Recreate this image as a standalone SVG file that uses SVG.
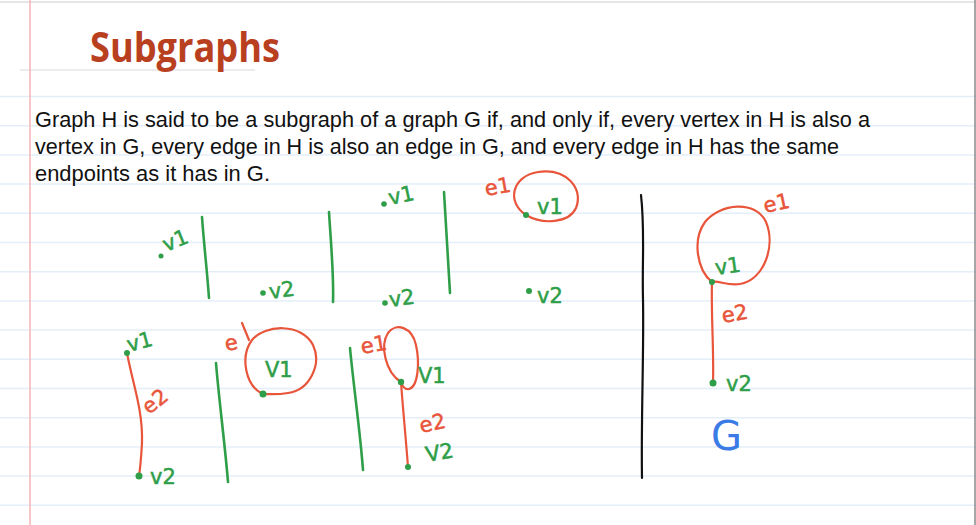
<svg xmlns="http://www.w3.org/2000/svg" width="976" height="525" viewBox="0 0 976 525">
<style>
.rule{stroke:#e4eef9;stroke-width:1.5}
.g{stroke:#2f9e48;stroke-width:2.6;fill:none;stroke-linecap:round;stroke-linejoin:round}
.r{stroke:#e8553a;stroke-width:2.2;fill:none;stroke-linecap:round;stroke-linejoin:round}
.k{stroke:#111;stroke-width:2.2;fill:none;stroke-linecap:round}
.dot{fill:#2f9e48}
.lg{fill:#2f9e48;stroke:#2f9e48;stroke-width:0.5;font-family:"DejaVu Sans",sans-serif;font-size:21px}
.lr{fill:#e8553a;stroke:#e8553a;stroke-width:0.5;font-family:"DejaVu Sans",sans-serif;font-size:21px}
.body{fill:#111;font-family:"Liberation Sans",Arial,sans-serif;font-size:21.5px}
</style>
<rect width="976" height="525" fill="#fff"/>
<g id="paper">
<line x1="0" y1="2" x2="976" y2="2" stroke="#ddd" stroke-width="1.5"/>
<line x1="20" y1="70" x2="255" y2="70" stroke="#e6e6ea" stroke-width="1.5"/>
<line class="rule" x1="0" y1="96.5" x2="976" y2="96.5"/>
<line class="rule" x1="0" y1="125.7" x2="976" y2="125.7"/>
<line class="rule" x1="0" y1="154.9" x2="976" y2="154.9"/>
<line class="rule" x1="0" y1="184.1" x2="976" y2="184.1"/>
<line class="rule" x1="0" y1="213.3" x2="976" y2="213.3"/>
<line class="rule" x1="0" y1="242.5" x2="976" y2="242.5"/>
<line class="rule" x1="0" y1="271.7" x2="976" y2="271.7"/>
<line class="rule" x1="0" y1="300.9" x2="976" y2="300.9"/>
<line class="rule" x1="0" y1="330.1" x2="976" y2="330.1"/>
<line class="rule" x1="0" y1="359.3" x2="976" y2="359.3"/>
<line class="rule" x1="0" y1="388.5" x2="976" y2="388.5"/>
<line class="rule" x1="0" y1="417.7" x2="976" y2="417.7"/>
<line class="rule" x1="0" y1="446.9" x2="976" y2="446.9"/>
<line class="rule" x1="0" y1="476.1" x2="976" y2="476.1"/>
<line class="rule" x1="0" y1="505.3" x2="976" y2="505.3"/>
<line x1="30" y1="0" x2="30" y2="525" stroke="#f5b5b5" stroke-width="1.5"/>
<line x1="975" y1="0" x2="975" y2="525" stroke="#888" stroke-width="1.5"/>
</g>
<g id="title">
<text x="90" y="62" fill="#b9401f" font-family="'Open Sans','Liberation Sans',sans-serif" font-weight="bold" font-size="41" textLength="190" lengthAdjust="spacingAndGlyphs">Subgraphs</text>
</g>
<g id="definition" class="body">
<text x="35" y="127" textLength="835" lengthAdjust="spacingAndGlyphs">Graph H is said to be a subgraph of a graph G if, and only if, every vertex in H is also a</text>
<text x="35" y="154" textLength="804" lengthAdjust="spacingAndGlyphs">vertex in G, every edge in H is also an edge in G, and every edge in H has the same</text>
<text x="35" y="181" textLength="235" lengthAdjust="spacingAndGlyphs">endpoints as it has in G.</text>
</g>
<g id="connectors">
<path class="g" d="M202,217 C204,245 207,270 209,298"/>
<path class="g" d="M329,212 C331,245 334,275 333,302"/>
<path class="g" d="M444,192 C446,225 448,260 450,293"/>
<path class="g" d="M216,363 C219,400 225,445 228,482"/>
<path class="g" d="M350,348 C354,390 360,430 363,470"/>
<path class="k" d="M641,195 C645,230 642,260 643,300 C644,350 641,420 642,478"/>
<path class="r" d="M526,215 C506,202 512,176 538,172 C566,168 584,188 576,208 C569,223 543,225 526,215"/>
<path class="r" d="M127,353 C133,385 143,410 142,443 C141,460 140,470 139,476"/>
<path class="r" d="M263,394 C245,386 240,356 252,340 C265,324 302,323 313,345 C322,364 310,390 288,393 C276,395 268,394 263,394"/>
<path class="r" d="M242,323 L249,340"/>
<path class="r" d="M401,382 C385,372 380,345 388,333 C396,322 412,327 416,345 C420,363 418,387 409,389 C404,390 402,385 401,382"/>
<path class="r" d="M401,382 C403,410 406,440 408,467"/>
<path class="r" d="M712,282 C697,270 692,240 705,222 C720,203 756,200 766,222 C776,246 764,280 740,284 C727,286 718,280 712,282"/>
<path class="r" d="M712,282 C711,315 714,350 713,383"/>
</g>
<g id="panel-a">
<g id="a-v1"><circle class="dot" cx="161" cy="256" r="2.5"/><text class="lg" x="166" y="252" font-size="18" transform="rotate(-22 166 252)">v1</text></g>
<g id="a-v2"><circle class="dot" cx="263" cy="293" r="2.8"/><text class="lg" x="270" y="299" transform="rotate(-8 270 299)">v2</text></g>
</g>
<g id="panel-b">
<g id="b-v1"><circle class="dot" cx="384" cy="204" r="2.8"/><text class="lg" x="390" y="205" font-size="19" transform="rotate(-12 390 205)">v1</text></g>
<g id="b-v2"><circle class="dot" cx="385" cy="303" r="2.8"/><text class="lg" x="390" y="307" transform="rotate(-8 390 307)">v2</text></g>
</g>
<g id="panel-c">
<g id="c-e1"><text class="lr" x="486" y="196" font-size="19" transform="rotate(-10 486 196)">e1</text></g>
<g id="c-v1"><circle class="dot" cx="526" cy="215" r="3"/><text class="lg" x="537" y="214">v1</text></g>
<g id="c-v2"><circle class="dot" cx="529" cy="291" r="3"/><text class="lg" x="537" y="303">v2</text></g>
</g>
<g id="panel-d">
<g id="d-v1"><circle class="dot" cx="127" cy="353" r="3"/><text class="lg" x="129" y="352" font-size="19" transform="rotate(-15 129 352)">v1</text></g>
<g id="d-e2"><text class="lr" x="149" y="415" transform="rotate(-38 149 415)">e2</text></g>
<g id="d-v2"><circle class="dot" cx="139" cy="476" r="3.5"/><text class="lg" x="150" y="484" font-size="19">v2</text></g>
</g>
<g id="panel-e">
<g id="e-e1"><text class="lr" x="226" y="351" transform="rotate(-10 226 351)">e</text></g>
<g id="e-v1"><circle class="dot" cx="263" cy="394" r="3.5"/><text class="lg" x="265" y="377" font-size="22">V1</text></g>
</g>
<g id="panel-f">
<g id="f-e1"><text class="lr" x="362" y="354" font-size="16" transform="rotate(-10 362 354)">e1</text></g>
<g id="f-v1"><circle class="dot" cx="401" cy="382" r="3.2"/><text class="lg" x="418" y="383" font-size="22">V1</text></g>
<g id="f-e2"><text class="lr" x="421" y="433" font-size="22" transform="rotate(-12 421 433)">e2</text></g>
<g id="f-v2"><circle class="dot" cx="408" cy="467" r="3"/><text class="lg" x="427" y="462" font-size="22" transform="rotate(-10 427 462)">V2</text></g>
</g>
<g id="graph-G">
<g id="G-e1"><text class="lr" x="765" y="213" font-size="19" transform="rotate(-12 765 213)">e1</text></g>
<g id="G-v1"><circle class="dot" cx="712" cy="282" r="3"/><text class="lg" x="716" y="275" transform="rotate(-8 716 275)">v1</text></g>
<g id="G-e2"><text class="lr" x="723" y="323" font-size="22" transform="rotate(-10 723 323)">e2</text></g>
<g id="G-v2"><circle class="dot" cx="713" cy="383" r="3.5"/><text class="lg" x="726" y="391">v2</text></g>
<g id="G-label"><text x="711" y="450" fill="#3b7be6" font-family="'DejaVu Sans',sans-serif" font-size="40">G</text></g>
</g>
</svg>
